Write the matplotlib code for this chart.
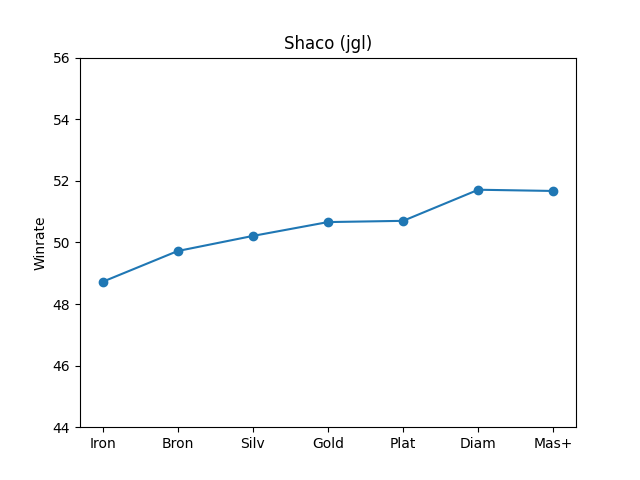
import matplotlib
matplotlib.use("Agg")
import matplotlib.pyplot as plt

ranks = ["Iron", "Bron", "Silv", "Gold", "Plat", "Diam", "Mas+"]
winrates = [48.72, 49.72, 50.21, 50.66, 50.70, 51.71, 51.67]

fig, ax = plt.subplots(figsize=(6.4, 4.8), dpi=100)
ax.plot(ranks, winrates, marker="o")
ax.set_ylim(44, 56)
ax.set_title("Shaco (jgl)")
ax.set_ylabel("Winrate")
fig.savefig("out.png")
